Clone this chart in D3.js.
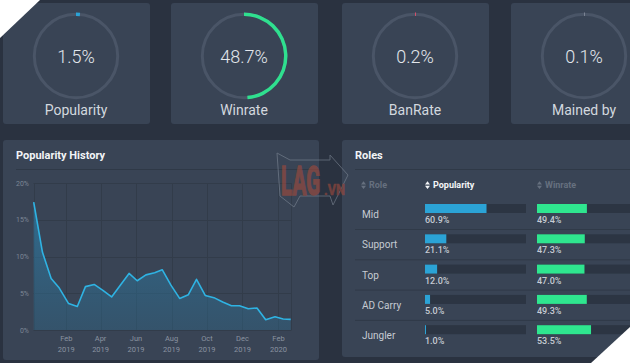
<!doctype html>
<html>
<head>
<meta charset="utf-8">
<script src="https://d3js.org/d3.v7.min.js"></script>
<style>
  body { margin: 0; background: #2a3240; }
  svg { display: block; font-family: Roboto, "Noto Sans", sans-serif; }
</style>
</head>
<body>
<svg width="630" height="363" id="chart"></svg>
<script>
  // stat cards
  var statLabels = ["Popularity", "Winrate", "BanRate", "Mained by"],
      statValues = [1.5, 48.7, 0.2, 0.1],
      statColors = ["#2ba3d6", "#2fe08f", "#e0506a", "#7f8896"];

  // popularity history (percent)
  var historyDates = ["2018-12-07", "2018-12-22", "2019-01-06", "2019-01-20", "2019-02-05",
      "2019-02-20", "2019-03-06", "2019-03-21", "2019-04-05", "2019-04-20", "2019-05-04",
      "2019-05-20", "2019-06-03", "2019-06-18", "2019-07-03", "2019-07-16", "2019-07-31",
      "2019-08-15", "2019-08-30", "2019-09-13", "2019-09-28", "2019-10-13", "2019-10-28",
      "2019-11-12", "2019-11-26", "2019-12-11", "2019-12-26", "2020-01-10", "2020-01-26",
      "2020-02-09", "2020-02-22"];
  var historyValues = [17.4, 10.6, 7.0, 5.7, 3.6, 3.2, 5.9, 6.2, 5.4, 4.5, 6.0,
      7.7, 6.7, 7.5, 7.8, 8.2, 6.1, 4.3, 4.8, 6.9, 4.7, 4.4, 3.8,
      3.3, 3.3, 2.9, 3.0, 1.4, 1.8, 1.5, 1.45];
  var yTicks = [0, 5, 10, 15, 20];

  // roles table
  var roles = ["Mid", "Support", "Top", "AD Carry", "Jungler"],
      rolePopularity = [60.9, 21.1, 12.0, 5.0, 1.0],
      roleWinrate = [49.4, 47.3, 47.0, 49.3, 53.5];

  var svg = d3.select("#chart");
  var cardFill = "#394455";

  // ---- stat cards ----
  var cardX = [3, 171, 342, 511];
  var cards = svg.selectAll(".card")
    .data(statLabels)
    .enter().append("g")
    .attr("class", "card")
    .attr("transform", function(d, i) { return "translate(" + cardX[i] + ",3)"; });

  cards.append("rect")
    .attr("width", 147).attr("height", 121).attr("rx", 3)
    .attr("fill", cardFill);

  var arc = d3.arc().innerRadius(40).outerRadius(43.5).startAngle(0);

  cards.append("circle")
    .attr("cx", 73).attr("cy", 53).attr("r", 41.7)
    .attr("fill", "none").attr("stroke", "#4a5567").attr("stroke-width", 3);

  cards.append("path")
    .attr("transform", "translate(73,53)")
    .attr("fill", function(d, i) { return statColors[i]; })
    .attr("d", function(d, i) {
      var a = Math.max(statValues[i], 0.35) / 100 * 2 * Math.PI;
      return arc({endAngle: a});
    });

  cards.append("text")
    .attr("x", 73).attr("y", 59.5)
    .attr("text-anchor", "middle")
    .attr("font-size", "18px").attr("font-weight", 300)
    .attr("fill", "#e3e7ec")
    .text(function(d, i) { return statValues[i].toFixed(1) + "%"; });

  cards.append("text")
    .attr("x", 73).attr("y", 112)
    .attr("text-anchor", "middle")
    .attr("font-size", "14px")
    .attr("fill", "#d3d8df")
    .text(function(d) { return d; });

  // ---- popularity history ----
  var hist = svg.append("g");
  hist.append("rect")
    .attr("x", 3).attr("y", 140).attr("width", 316).attr("height", 220).attr("rx", 3)
    .attr("fill", cardFill);
  hist.append("text")
    .attr("x", 16).attr("y", 159)
    .attr("font-size", "11px").attr("font-weight", "bold")
    .attr("fill", "#f2f4f7")
    .text("Popularity History");
  hist.append("line")
    .attr("x1", 16).attr("x2", 319).attr("y1", 169.5).attr("y2", 169.5)
    .attr("stroke", "#2f3947");

  var parse = d3.timeParse("%Y-%m-%d");
  var dates = historyDates.map(parse);
  var x = d3.scaleTime().domain([dates[0], dates[dates.length - 1]]).range([33.7, 290.7]);
  var y = d3.scaleLinear().domain([0, 20]).range([330, 183]);

  var months = d3.timeMonth.range(new Date(2019, 1, 1), new Date(2020, 2, 1), 2);

  // grid
  hist.append("g").selectAll("line.h")
    .data(yTicks).enter().append("line")
    .attr("x1", 33.5).attr("x2", 291.5)
    .attr("y1", function(d) { return Math.round(y(d)) + 0.5; })
    .attr("y2", function(d) { return Math.round(y(d)) + 0.5; })
    .attr("stroke", "#323c4a");
  hist.append("g").selectAll("line.v")
    .data(months.concat([dates[0], dates[dates.length - 1]])).enter().append("line")
    .attr("x1", function(d) { return Math.round(x(d)) + 0.5; })
    .attr("x2", function(d) { return Math.round(x(d)) + 0.5; })
    .attr("y1", 183).attr("y2", 330)
    .attr("stroke", "#323c4a");

  // y labels
  hist.append("g").selectAll("text")
    .data(yTicks).enter().append("text")
    .attr("x", 29).attr("y", function(d) { return y(d) + 2.5; })
    .attr("text-anchor", "end")
    .attr("font-size", "7px")
    .attr("fill", "#7c8695")
    .text(function(d) { return d + "%"; });

  // x labels
  var xl = hist.append("g").selectAll("text")
    .data(months).enter().append("text")
    .attr("text-anchor", "middle")
    .attr("font-size", "7.5px")
    .attr("fill", "#8a93a1");
  xl.append("tspan")
    .attr("x", function(d) { return x(d); }).attr("y", 341)
    .text(function(d) { return d3.timeFormat("%b")(d); });
  xl.append("tspan")
    .attr("x", function(d) { return x(d); }).attr("y", 352)
    .text(function(d) { return d3.timeFormat("%Y")(d); });

  // area + line
  var defs = svg.append("defs");
  var grad = defs.append("linearGradient").attr("id", "areaGrad")
    .attr("x1", 0).attr("y1", 0).attr("x2", 0).attr("y2", 1);
  grad.append("stop").attr("offset", "0%").attr("stop-color", "#2a88b8").attr("stop-opacity", 0.6);
  grad.append("stop").attr("offset", "100%").attr("stop-color", "#2e6a8c").attr("stop-opacity", 0.4);

  var pts = dates.map(function(d, i) { return [d, historyValues[i]]; });
  hist.append("path")
    .datum(pts)
    .attr("fill", "url(#areaGrad)")
    .attr("d", d3.area()
      .x(function(d) { return x(d[0]); })
      .y0(y(0))
      .y1(function(d) { return y(d[1]); }));
  hist.append("path")
    .datum(pts)
    .attr("fill", "none")
    .attr("stroke", "#2fb3e3")
    .attr("stroke-width", 1.6)
    .attr("stroke-linejoin", "round")
    .attr("d", d3.line()
      .x(function(d) { return x(d[0]); })
      .y(function(d) { return y(d[1]); }));

  // ---- roles ----
  var rl = svg.append("g");
  rl.append("rect")
    .attr("x", 342).attr("y", 140).attr("width", 320).attr("height", 217).attr("rx", 3)
    .attr("fill", cardFill);
  rl.append("text")
    .attr("x", 355).attr("y", 159)
    .attr("font-size", "11px").attr("font-weight", "bold")
    .attr("fill", "#f2f4f7")
    .text("Roles");
  rl.append("line")
    .attr("x1", 355).attr("x2", 630).attr("y1", 169.5).attr("y2", 169.5)
    .attr("stroke", "#2f3947");

  var headers = [
    {label: "Role", x: 361, color: "#66707f"},
    {label: "Popularity", x: 425, color: "#f4f6f8"},
    {label: "Winrate", x: 537, color: "#66707f"}
  ];
  var hd = rl.append("g").selectAll("g")
    .data(headers).enter().append("g")
    .attr("transform", function(d) { return "translate(" + d.x + ",185)"; });
  hd.append("path")
    .attr("d", "M0,-0.5 L2.5,-3.8 L5,-0.5 Z M0,0.8 L2.5,4.1 L5,0.8 Z")
    .attr("fill", function(d) { return d.color; });
  hd.append("text")
    .attr("x", 8).attr("y", 3.3)
    .attr("font-size", "9px").attr("font-weight", "bold")
    .attr("fill", function(d) { return d.color; })
    .text(function(d) { return d.label; });

  var barX = d3.scaleLinear().domain([0, 100]).range([0, 101]);
  var rowY = d3.scaleLinear().domain([0, 1]).range([204, 234.3]);

  var rows = rl.selectAll(".row")
    .data(roles).enter().append("g")
    .attr("class", "row")
    .attr("transform", function(d, i) { return "translate(0," + rowY(i) + ")"; });

  rows.filter(function(d, i) { return i < roles.length - 1; })
    .append("line")
    .attr("x1", 355).attr("x2", 630).attr("y1", 25.5).attr("y2", 25.5)
    .attr("stroke", "#303a48");

  rows.append("text")
    .attr("x", 362).attr("y", 14)
    .attr("font-size", "10px")
    .attr("fill", "#c6cbd3")
    .text(function(d) { return d; });

  var cols = [
    {x: 425, values: rolePopularity, color: "#2ba3d6"},
    {x: 537, values: roleWinrate, color: "#2fe68f"}
  ];
  cols.forEach(function(c) {
    rows.append("rect")
      .attr("x", c.x).attr("y", 0).attr("width", barX(100)).attr("height", 9)
      .attr("fill", "#2c3543");
    rows.append("rect")
      .attr("x", c.x).attr("y", 0)
      .attr("width", function(d, i) { return barX(c.values[i]); })
      .attr("height", 9)
      .attr("fill", c.color);
    rows.append("text")
      .attr("x", c.x).attr("y", 19)
      .attr("font-size", "9px").attr("font-weight", 500)
      .attr("fill", "#c6cbd3")
      .text(function(d, i) { return c.values[i].toFixed(1) + "%"; });
  });

  // ---- watermark ----
  var wm = svg.append("g").attr("opacity", 0.6);
  wm.append("path")
    .attr("d", "M277,153 L290,160 L330,160 L330,155 L348,175 L333,205 L330,196 L300,196 L294,207 L280,196 Z")
    .attr("fill", "none").attr("stroke", "#7d8795").attr("stroke-width", 1);
  wm.append("g")
    .attr("transform", "translate(281,195) scale(0.52,1)")
    .append("text")
    .attr("font-size", "40px").attr("font-weight", "bold")
    .attr("fill", "#a24a3c").attr("stroke", "#a24a3c").attr("stroke-width", 1.5)
    .text("LAG");
  wm.append("g")
    .attr("transform", "translate(324,195) scale(0.85,1)")
    .append("text")
    .attr("font-size", "15px").attr("font-weight", "bold")
    .attr("fill", "#a24a3c").attr("stroke", "#a24a3c").attr("stroke-width", 0.6)
    .text(".VN");

  // ---- cropped corners of the screenshot ----
  svg.append("path").attr("d", "M0,0 L40,0 L0,38 Z").attr("fill", "#ffffff");
  svg.append("path").attr("d", "M631,326 L631,363 L591,363 Z").attr("fill", "#ffffff");
</script>
</body>
</html>
